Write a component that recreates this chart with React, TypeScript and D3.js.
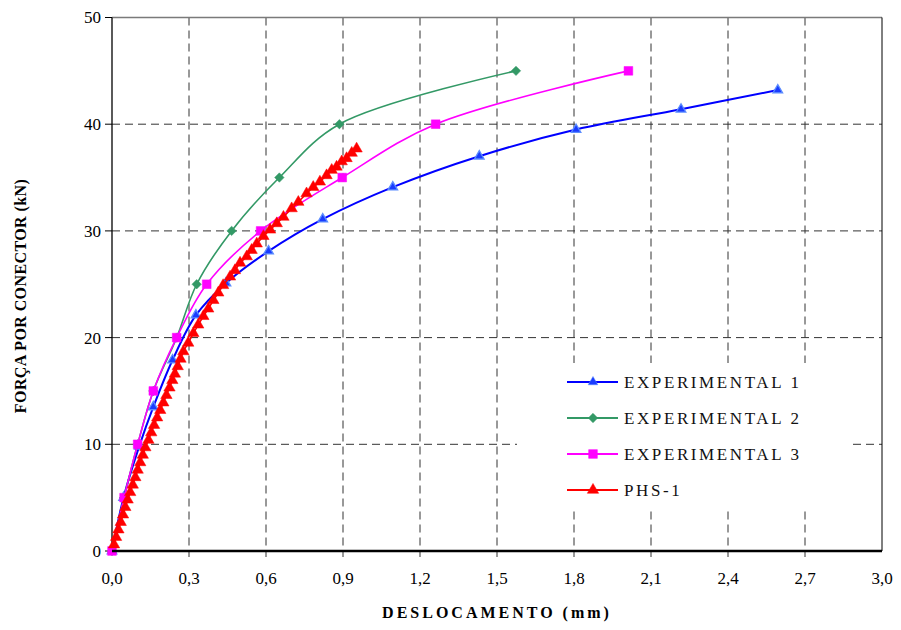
import React, { useEffect, useRef } from "react";
import * as d3 from "d3";

// values (mm, kN)
const exp1X = [0, 0.045, 0.106, 0.161, 0.236, 0.327, 0.444, 0.61, 0.821, 1.094, 1.431, 1.808, 2.217, 2.594];
const exp1Y = [0, 5, 9.8, 13.5, 17.9, 22.1, 25.1, 28.1, 31.1, 34.1, 37.0, 39.5, 41.4, 43.2];

const exp2X = [0, 0.047, 0.1, 0.161, 0.252, 0.33, 0.466, 0.652, 0.886, 1.574];
const exp2Y = [0, 5, 10, 15, 20, 25, 30, 35, 40, 45];

const exp3X = [0, 0.047, 0.1, 0.161, 0.252, 0.369, 0.579, 0.897, 1.261, 2.012];
const exp3Y = [0, 5, 10, 15, 20, 25, 30, 35, 40, 45];

const phsX = [
  0.008, 0.016, 0.025, 0.034, 0.043, 0.052, 0.061, 0.071, 0.081, 0.091, 0.1, 0.11, 0.12, 0.13,
  0.142, 0.153, 0.164, 0.176, 0.188, 0.2, 0.212, 0.224, 0.235, 0.245, 0.256, 0.267, 0.278,
  0.297, 0.317, 0.336, 0.356, 0.375, 0.395, 0.414, 0.433, 0.46, 0.479, 0.499, 0.525, 0.544,
  0.564, 0.59, 0.616, 0.642, 0.668, 0.7, 0.726, 0.758, 0.784, 0.81, 0.836, 0.856, 0.875,
  0.895, 0.914, 0.934, 0.953,
];
const phsY = [
  0.6, 1.3, 2.0, 2.7, 3.4, 4.1, 4.8, 5.5, 6.2, 6.9, 7.6, 8.3, 9.0, 9.7,
  10.4, 11.1, 11.8, 12.5, 13.2, 13.9, 14.6, 15.3, 16.0, 16.6, 17.3, 18.0, 18.7,
  19.5, 20.4, 21.2, 22.0, 22.7, 23.5, 24.2, 24.9, 25.7, 26.3, 27.0, 27.6, 28.2,
  28.8, 29.5, 30.1, 30.7, 31.3, 32.1, 32.7, 33.5, 34.1, 34.6, 35.2, 35.7, 36.0,
  36.5, 36.8, 37.3, 37.7,
];

const xTicks = [0, 0.3, 0.6, 0.9, 1.2, 1.5, 1.8, 2.1, 2.4, 2.7, 3.0];
const yTicks = [0, 10, 20, 30, 40, 50];

const seriesNames = ["EXPERIMENTAL 1", "EXPERIMENTAL 2", "EXPERIMENTAL 3", "PHS-1"];

const FONT = "Liberation Serif, DejaVu Serif, serif";

export default function App() {
  const ref = useRef<SVGSVGElement>(null);

  useEffect(() => {
    const svg = d3.select(ref.current);
    svg.selectAll("*").remove();

    const margin = { top: 17.5, right: 19, bottom: 79, left: 112 },
      width = 901 - margin.left - margin.right,
      height = 630 - margin.top - margin.bottom;

    const x = d3.scaleLinear().domain([0, 3]).range([margin.left, margin.left + width]);
    const y = d3.scaleLinear().domain([0, 50]).range([margin.top + height, margin.top]);

    const series = [
      { name: seriesNames[0], xs: exp1X, ys: exp1Y, color: "#0000ff", width: 2, shape: "tri", size: 40, fill: "#1a3cff", stroke: "#5b8cff", curve: d3.curveCatmullRom },
      { name: seriesNames[1], xs: exp2X, ys: exp2Y, color: "#339966", width: 1.6, shape: "diamond", size: 44, fill: "#339966", stroke: "#339966", curve: d3.curveCatmullRom },
      { name: seriesNames[2], xs: exp3X, ys: exp3Y, color: "#ff00ff", width: 1.6, shape: "square", size: 76, fill: "#ff00ff", stroke: "#ff00ff", curve: d3.curveCatmullRom },
      { name: seriesNames[3], xs: phsX, ys: phsY, color: "#ff0000", width: 1.5, shape: "tri", size: 56, fill: "#ff0000", stroke: "#ff0000", curve: d3.curveLinear },
    ];

    const symbolPath = (shape: string, size: number) => {
      if (shape === "tri") return d3.symbol(d3.symbolTriangle, size)();
      return d3.symbol(d3.symbolSquare, size)();
    };

    // gridlines
    const grid = svg.append("g").attr("stroke", "#333").attr("stroke-width", 1).attr("stroke-dasharray", "8,5");
    yTicks.filter(t => t > 0 && t < 50).forEach(t => {
      grid.append("line")
        .attr("x1", margin.left).attr("x2", margin.left + width)
        .attr("y1", y(t)).attr("y2", y(t));
    });
    xTicks.filter(t => t > 0 && t < 3).forEach(t => {
      grid.append("line")
        .attr("x1", x(t)).attr("x2", x(t))
        .attr("y1", margin.top).attr("y2", margin.top + height + 6);
    });

    // frame
    svg.append("line")
      .attr("x1", margin.left).attr("x2", margin.left + width)
      .attr("y1", margin.top).attr("y2", margin.top)
      .attr("stroke", "#7a7a7a").attr("stroke-width", 1.5);
    svg.append("line")
      .attr("x1", margin.left + width).attr("x2", margin.left + width)
      .attr("y1", margin.top).attr("y2", margin.top + height)
      .attr("stroke", "#000").attr("stroke-width", 1);

    // y axis
    svg.append("line")
      .attr("x1", margin.left).attr("x2", margin.left)
      .attr("y1", margin.top).attr("y2", margin.top + height)
      .attr("stroke", "#000").attr("stroke-width", 1.3);
    yTicks.forEach(t => {
      svg.append("line")
        .attr("x1", margin.left - 7).attr("x2", margin.left)
        .attr("y1", y(t)).attr("y2", y(t))
        .attr("stroke", "#000").attr("stroke-width", 1);
      svg.append("text")
        .attr("x", margin.left - 11).attr("y", y(t))
        .attr("dy", "0.35em")
        .attr("text-anchor", "end")
        .style("font-family", FONT).style("font-size", "17px")
        .attr("fill", "#000")
        .text(String(t));
    });

    // x axis labels
    xTicks.forEach(t => {
      svg.append("text")
        .attr("x", x(t)).attr("y", 584)
        .attr("text-anchor", "middle")
        .style("font-family", FONT).style("font-size", "17px")
        .attr("fill", "#000")
        .text(d3.format(".1f")(t).replace(".", ","));
    });

    // series
    series.forEach(s => {
      const pts = s.xs.map((v, i) => [v, s.ys[i]] as [number, number]);
      const line = d3.line<[number, number]>()
        .x(d => x(d[0]))
        .y(d => y(d[1]))
        .curve(s.curve);
      svg.append("path")
        .datum(pts)
        .attr("d", line)
        .attr("fill", "none")
        .attr("stroke", s.color)
        .attr("stroke-width", s.width)
        .attr("stroke-linejoin", "round");
      svg.append("g").selectAll("path")
        .data(pts)
        .join("path")
        .attr("d", symbolPath(s.shape, s.size))
        .attr("transform", d => `translate(${x(d[0])},${y(d[1])})` + (s.shape === "diamond" ? " rotate(45)" : ""))
        .attr("fill", s.fill)
        .attr("stroke", s.stroke)
        .attr("stroke-width", s.shape === "tri" && s.color === "#0000ff" ? 1.3 : 0.5);
    });

    // bottom axis on top of marks
    svg.append("line")
      .attr("x1", margin.left).attr("x2", margin.left + width)
      .attr("y1", margin.top + height).attr("y2", margin.top + height)
      .attr("stroke", "#000").attr("stroke-width", 2.5);

    // legend
    const legend = svg.append("g");
    legend.append("rect")
      .attr("x", 517).attr("y", 363)
      .attr("width", 335).attr("height", 147)
      .attr("fill", "#fff");
    series.forEach((s, i) => {
      const ly = 382 + i * 36;
      legend.append("line")
        .attr("x1", 567).attr("x2", 618)
        .attr("y1", ly).attr("y2", ly)
        .attr("stroke", s.color).attr("stroke-width", 2);
      legend.append("path")
        .attr("d", symbolPath(s.shape, s.size))
        .attr("transform", `translate(593,${ly})` + (s.shape === "diamond" ? " rotate(45)" : ""))
        .attr("fill", s.fill)
        .attr("stroke", s.stroke)
        .attr("stroke-width", 0.5);
      legend.append("text")
        .attr("x", 624).attr("y", ly)
        .attr("dy", "0.36em")
        .style("font-family", FONT).style("font-size", "17px")
        .style("letter-spacing", "2.6px")
        .attr("fill", "#111")
        .text(s.name);
    });

    // axis titles
    svg.append("text")
      .attr("x", 497).attr("y", 618)
      .attr("text-anchor", "middle")
      .style("font-family", FONT).style("font-size", "16px").style("font-weight", "bold")
      .style("letter-spacing", "3px")
      .text("DESLOCAMENTO (mm)");
    svg.append("text")
      .attr("transform", "translate(26,296) rotate(-90)")
      .attr("text-anchor", "middle")
      .style("font-family", FONT).style("font-size", "16px").style("font-weight", "bold")
      .style("letter-spacing", "0.4px")
      .text("FORÇA POR CONECTOR (kN)");
  }, []);

  return (
    <svg
      ref={ref}
      width={901}
      height={630}
      style={{ position: "absolute", left: 0, top: 0, background: "#fff" }}
    />
  );
}
